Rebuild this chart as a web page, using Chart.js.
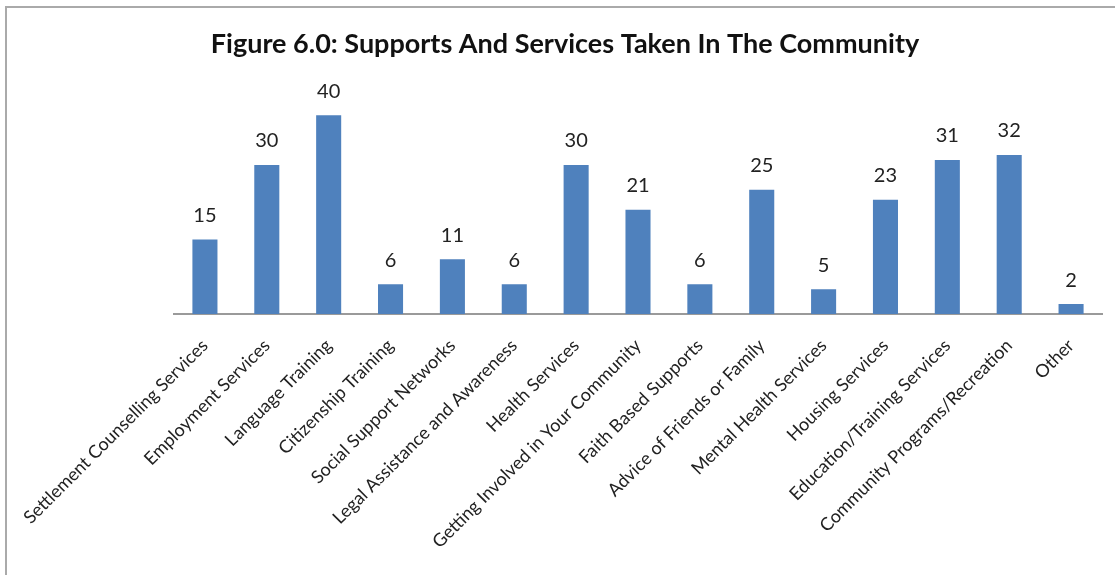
<!DOCTYPE html>
<html>
<head>
<meta charset="utf-8">
<script src="https://cdn.jsdelivr.net/npm/chart.js@4.4.0/dist/chart.umd.min.js"></script>
<style>
  html, body { margin: 0; padding: 0; background: #fff; }
  #wrap { position: relative; width: 1115px; height: 575px; }
  #frame {
    position: absolute; left: 5px; top: 6px; right: 0; bottom: 0;
    border-top: 2px solid #aaa; border-left: 2px solid #aaa;
    pointer-events: none;
  }
</style>
</head>
<body>
<div id="wrap">
  <canvas id="myChart" width="1115" height="575"></canvas>
  <div id="frame"></div>
</div>
<script>
var categories = [
  'Settlement Counselling Services',
  'Employment Services',
  'Language Training',
  'Citizenship Training',
  'Social Support Networks',
  'Legal Assistance and Awareness',
  'Health Services',
  'Getting Involved in Your Community',
  'Faith Based Supports',
  'Advice of Friends or Family',
  'Mental Health Services',
  'Housing Services',
  'Education/Training Services',
  'Community Programs/Recreation',
  'Other'
];
var counts = [15, 30, 40, 6, 11, 6, 30, 21, 6, 25, 5, 23, 31, 32, 2];

var fontName = 'Lato';

// value printed above each bar
var barValues = {
  id: 'barValues',
  afterDatasetsDraw: function(chart) {
    var c = chart.ctx;
    var meta = chart.getDatasetMeta(0);
    c.save();
    c.font = '20px ' + fontName;
    c.fillStyle = '#222';
    c.textAlign = 'center';
    c.textBaseline = 'middle';
    meta.data.forEach(function(bar, i) {
      c.fillText(String(counts[i]), bar.x, bar.y - 24);
    });
    c.restore();
  }
};

var ctx = document.getElementById('myChart');
new Chart(ctx, {
  type: 'bar',
  data: {
    labels: categories,
    datasets: [{
      label: 'Supports and services',
      data: counts,
      backgroundColor: '#4f81bd',
      borderWidth: 0,
      barPercentage: 0.405,
      categoryPercentage: 1
    }]
  },
  options: {
    responsive: false,
    animation: false,
    layout: { padding: { left: 28, right: 13, top: 0, bottom: 0 } },
    plugins: {
      legend: { display: false },
      tooltip: { enabled: false },
      title: {
        display: true,
        text: 'Figure 6.0: Supports And Services Taken In The Community',
        color: '#111',
        font: { family: fontName, size: 27, weight: 'bold', lineHeight: 1.2 },
        padding: { top: 28, bottom: 30 }
      }
    },
    scales: {
      // hidden axis, only reserves the left margin
      y: {
        display: true,
        min: 0,
        max: 45,
        grid: { display: false },
        border: { display: false },
        ticks: { display: false },
        afterFit: function(scale) { scale.width = 146; }
      },
      x: {
        grid: { display: false },
        border: { display: true, color: '#9a9a9a', width: 2 },
        ticks: {
          color: '#222',
          font: { family: fontName, size: 18 },
          maxRotation: 45,
          minRotation: 45,
          autoSkip: false,
          padding: 13
        },
        afterFit: function(scale) { scale.height = 575 - 314; }
      }
    }
  },
  plugins: [barValues]
});
</script>
</body>
</html>
